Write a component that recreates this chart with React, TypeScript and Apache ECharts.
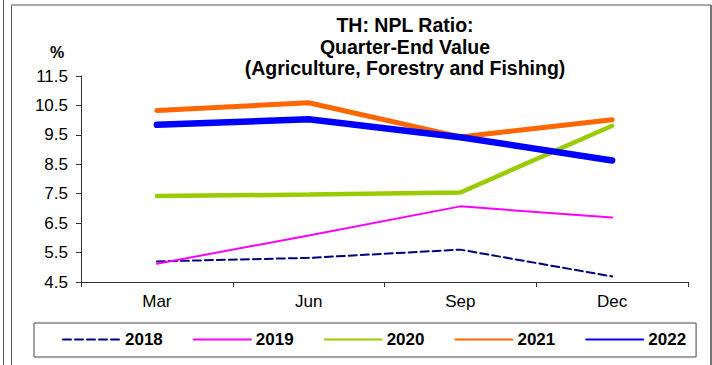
import React, { useEffect, useRef } from "react";
import * as echarts from "echarts";

const categories = ["Mar", "Jun", "Sep", "Dec"];
const years = ["2018", "2019", "2020", "2021", "2022"];
const s2018 = [5.2, 5.32, 5.6, 4.69];
const s2019 = [5.12, 6.08, 7.07, 6.69];
const s2020 = [7.42, 7.47, 7.54, 9.81];
const s2021 = [10.33, 10.59, 9.43, 10.01];
const s2022 = [9.84, 10.03, 9.42, 8.63];
const titleLines = ["TH: NPL Ratio:", "Quarter-End Value", "(Agriculture, Forestry and Fishing)"];

const FONT = "'Liberation Sans', Arial, sans-serif";

export default function App() {
  const ref = useRef<HTMLDivElement>(null);
  useEffect(() => {
    if (!ref.current) return;
    const chart = echarts.init(ref.current, undefined, { renderer: "svg" });
    const styles = [
      { color: "#000080", width: 2, type: "dashed" },
      { color: "#FF00FF", width: 2, type: "solid" },
      { color: "#99CC00", width: 4.5, type: "solid" },
      { color: "#FF6600", width: 5, type: "solid" },
      { color: "#0000FF", width: 6.5, type: "solid" },
    ];
    const data = [s2018, s2019, s2020, s2021, s2022];
    chart.setOption({
      animation: false,
      backgroundColor: "#fff",
      textStyle: { fontFamily: FONT },
      grid: { left: 81, right: 24, top: 76, bottom: 83, containLabel: false },
      graphic: [
        { type: "line", shape: { x1: 3.5, y1: 0, x2: 3.5, y2: 365 }, style: { stroke: "#555", lineWidth: 1 } },
        { type: "line", shape: { x1: 11.5, y1: 5, x2: 11.5, y2: 365 }, style: { stroke: "#555", lineWidth: 1 } },
        { type: "line", shape: { x1: 11, y1: 5, x2: 711, y2: 5 }, style: { stroke: "#a8a8a8", lineWidth: 2 } },
        { type: "line", shape: { x1: 711, y1: 5, x2: 711, y2: 365 }, style: { stroke: "#777", lineWidth: 2 } },
        ...titleLines.map((t, i) => ({
          type: "text",
          x: 405,
          y: 25 + i * 21.5,
          style: {
            text: t,
            fontFamily: FONT,
            fontSize: 19.5,
            fontWeight: "bold",
            fill: "#000",
            textAlign: "center",
            textVerticalAlign: "middle",
          },
        })),
        {
          type: "text",
          x: 57,
          y: 52,
          style: { text: "%", fontFamily: FONT, fontSize: 16, fontWeight: "bold", fill: "#000", textAlign: "center", textVerticalAlign: "middle" },
        },
      ],
      legend: {
        left: 34,
        top: 323,
        data: years,
        orient: "horizontal",
        itemWidth: 57,
        itemHeight: 14,
        itemGap: 30,
        padding: [8, 10, 9, 28],
        borderColor: "#444",
        borderWidth: 1,
        itemStyle: { opacity: 0 },
        textStyle: { fontFamily: FONT, fontSize: 17, fontWeight: "bold", color: "#000" },
      },
      xAxis: {
        type: "category",
        data: categories,
        boundaryGap: true,
        axisLine: { lineStyle: { color: "#333", width: 1 } },
        axisTick: { show: true, alignWithLabel: false, length: 5, lineStyle: { color: "#333" } },
        axisLabel: { fontFamily: FONT, fontSize: 17, color: "#000", margin: 11 },
        splitLine: { show: false },
      },
      yAxis: {
        type: "value",
        min: 4.5,
        max: 11.5,
        interval: 1,
        axisLine: { show: true, lineStyle: { color: "#333", width: 1 } },
        axisTick: { show: true, length: 5, lineStyle: { color: "#333" } },
        axisLabel: { fontFamily: FONT, fontSize: 17, color: "#000", margin: 13, formatter: (v: number) => v.toFixed(1) },
        splitLine: { show: false },
      },
      series: years.map((y, i) => ({
        name: y,
        type: "line",
        data: data[i],
        symbol: "none",
        smooth: false,
        lineStyle: { color: styles[i].color, width: styles[i].width, type: styles[i].type, cap: "round" },
        itemStyle: { color: styles[i].color },
      })),
    });
    return () => chart.dispose();
  }, []);
  return (
    <div
      ref={ref}
      style={{ position: "fixed", left: 0, top: 0, width: 712, height: 365 }}
    />
  );
}
